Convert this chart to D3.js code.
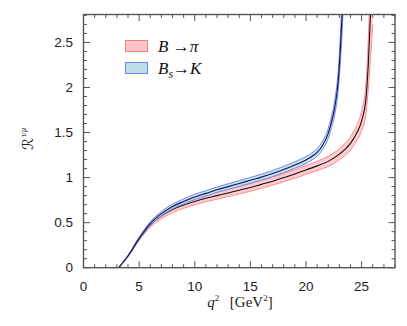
<!DOCTYPE html>
<html>
<head>
<meta charset="utf-8">
<script src="https://cdn.jsdelivr.net/npm/d3@7"></script>
<style>
  body { margin: 0; background: #fff; }
  svg { display: block; }
</style>
</head>
<body>
<div class="chart"></div>
<script>
// q^2 grid and R^{tau/mu} for B -> pi (central value and band half-width)
var q2Bpi = [3.16, 4, 5, 6, 7, 8, 9, 10, 11, 12, 13, 14, 15, 16, 17, 18, 19, 20, 21, 22, 23, 24, 24.5, 25, 25.4, 25.6, 25.8, 26.0];
var rBpi  = [0, 0.13, 0.32, 0.475, 0.575, 0.645, 0.695, 0.735, 0.77, 0.80, 0.83, 0.86, 0.89, 0.925, 0.96, 1.0, 1.04, 1.085, 1.13, 1.18, 1.26, 1.38, 1.48, 1.63, 1.89, 2.26, 2.82, 3.4];
var eBpi  = [0, 0.008, 0.018, 0.026, 0.031, 0.034, 0.036, 0.037, 0.038, 0.039, 0.04, 0.041, 0.042, 0.043, 0.044, 0.045, 0.047, 0.049, 0.052, 0.056, 0.062, 0.075, 0.085, 0.11, 0.17, 0.28, 0.5, 0.7];

// same for Bs -> K
var q2BsK = [3.16, 4, 5, 6, 7, 8, 9, 10, 11, 12, 13, 14, 15, 16, 17, 18, 19, 20, 20.65, 21, 21.5, 22, 22.3, 22.6, 22.9, 23.1, 23.25, 23.4];
var rBsK  = [0, 0.13, 0.325, 0.49, 0.60, 0.68, 0.735, 0.785, 0.825, 0.865, 0.90, 0.935, 0.97, 1.005, 1.045, 1.09, 1.14, 1.195, 1.245, 1.28, 1.36, 1.49, 1.62, 1.79, 2.08, 2.45, 2.82, 3.3];
var eBsK  = [0, 0.006, 0.014, 0.02, 0.024, 0.026, 0.028, 0.029, 0.03, 0.03, 0.031, 0.031, 0.032, 0.033, 0.034, 0.035, 0.036, 0.038, 0.04, 0.042, 0.046, 0.055, 0.065, 0.08, 0.11, 0.15, 0.2, 0.25];

var xTicks = [0, 5, 10, 15, 20, 25];
var yTicks = [0, 0.5, 1, 1.5, 2, 2.5];

var W = 407, H = 326;
var pLeft = 83.5, pRight = 395, pTop = 14.5, pBottom = 267.7;

var x = d3.scaleLinear().domain([0, 28]).range([pLeft, pRight]);
var y = d3.scaleLinear().domain([0, 2.81]).range([pBottom, pTop]);

var svg = d3.select('.chart')
  .append('svg')
  .attr('width', W)
  .attr('height', H);

svg.append('clipPath').attr('id', 'plot')
  .append('rect')
  .attr('x', pLeft).attr('y', pTop)
  .attr('width', pRight - pLeft).attr('height', pBottom - pTop);

function rows(q, r, e) {
  return q.map(function(v, i) { return { q: v, r: r[i], e: e[i] }; });
}
var bpi = rows(q2Bpi, rBpi, eBpi);
var bsk = rows(q2BsK, rBsK, eBsK);

var band = d3.area()
  .x(function(d) { return x(d.q); })
  .y0(function(d) { return y(d.r - d.e); })
  .y1(function(d) { return y(d.r + d.e); })
  .curve(d3.curveMonotoneX);
var edgeLo = d3.line()
  .x(function(d) { return x(d.q); })
  .y(function(d) { return y(d.r - d.e); })
  .curve(d3.curveMonotoneX);
var edgeHi = d3.line()
  .x(function(d) { return x(d.q); })
  .y(function(d) { return y(d.r + d.e); })
  .curve(d3.curveMonotoneX);
var mid = d3.line()
  .x(function(d) { return x(d.q); })
  .y(function(d) { return y(d.r); })
  .curve(d3.curveMonotoneX);

var g = svg.append('g').attr('clip-path', 'url(#plot)');

function drawBand(data, fill, edge, line) {
  g.append('path').attr('d', band(data))
    .style('fill', fill).style('opacity', 0.85);
  g.append('path').attr('d', edgeLo(data))
    .style('fill', 'none').style('stroke', edge).style('stroke-width', 1);
  g.append('path').attr('d', edgeHi(data))
    .style('fill', 'none').style('stroke', edge).style('stroke-width', 1);
  g.append('path').attr('d', mid(data))
    .style('fill', 'none').style('stroke', line).style('stroke-width', 1.1);
}
drawBand(bpi, '#ffc4c8', '#ff8a8a', '#111');
drawBand(bsk, '#bcdfe8', '#6f86f0', '#12124a');

// frame with inward ticks on all sides
var frame = svg.append('g');
var axisColor = '#555';
d3.range(0, 29, 1).forEach(function(v) {
  var len = v % 5 === 0 ? 6.5 : 3.5;
  frame.append('line')
    .attr('x1', x(v)).attr('x2', x(v))
    .attr('y1', pBottom).attr('y2', pBottom - len)
    .style('stroke', axisColor);
  frame.append('line')
    .attr('x1', x(v)).attr('x2', x(v))
    .attr('y1', pTop).attr('y2', pTop + len)
    .style('stroke', axisColor);
});
d3.range(0, 29, 1).forEach(function(k) {
  var v = k / 10;
  var len = k % 5 === 0 ? 6.5 : 3.5;
  frame.append('line')
    .attr('x1', pLeft).attr('x2', pLeft + len)
    .attr('y1', y(v)).attr('y2', y(v))
    .style('stroke', axisColor);
  frame.append('line')
    .attr('x1', pRight).attr('x2', pRight - len)
    .attr('y1', y(v)).attr('y2', y(v))
    .style('stroke', axisColor);
});
frame.append('rect')
  .attr('x', pLeft).attr('y', pTop)
  .attr('width', pRight - pLeft).attr('height', pBottom - pTop)
  .style('fill', 'none').style('stroke', axisColor).style('stroke-width', 1.4);

// tick labels
var sans = '"Liberation Sans", Arial, sans-serif';
svg.selectAll('.xl').data(xTicks).enter().append('text')
  .attr('x', function(d) { return x(d); })
  .attr('y', 290.5)
  .attr('text-anchor', 'middle')
  .style('font-family', sans).style('font-size', '13.5px').style('fill', '#222')
  .text(function(d) { return d; });
svg.selectAll('.yl').data(yTicks).enter().append('text')
  .attr('x', 73)
  .attr('y', function(d) { return y(d) + 4.5; })
  .attr('text-anchor', 'end')
  .style('font-family', sans).style('font-size', '13.5px').style('fill', '#222')
  .text(function(d) { return d; });

// axis titles
var serif = '"Liberation Serif", "Times New Roman", serif';
var xt = svg.append('text')
  .attr('x', 240).attr('y', 307)
  .attr('text-anchor', 'middle')
  .style('font-family', serif).style('font-size', '15px').style('fill', '#222');
xt.append('tspan').style('font-style', 'italic').text('q');
xt.append('tspan').attr('dy', -6).style('font-size', '9px').text('2');
xt.append('tspan').attr('dy', 6).text('\u2002\u2009[GeV');
xt.append('tspan').attr('dy', -6).style('font-size', '9px').text('2');
xt.append('tspan').attr('dy', 6).text(']');

var yt = svg.append('text')
  .attr('transform', 'translate(33,139) rotate(-90)')
  .attr('text-anchor', 'middle')
  .style('font-family', '"DejaVu Sans", "DejaVu Serif", serif').style('font-size', '15px').style('fill', '#222');
yt.append('tspan').text('\u211B');
yt.append('tspan').attr('dy', -7).attr('dx', 1).style('font-family', serif)
  .style('font-size', '8px').style('font-style', 'italic').text('\u03C4/\u03BC');

// legend
var legend = [
  { fill: '#ffc4c8', edge: '#f08080', y: 40.5, main: 'B', sub: '', rest: ' \u2192', end: '\u03C0' },
  { fill: '#bcdfe8', edge: '#6f86f0', y: 62.5, main: 'B', sub: 's', rest: '\u2192', end: 'K' }
];
legend.forEach(function(d) {
  svg.append('rect')
    .attr('x', 125.5).attr('y', d.y)
    .attr('width', 22).attr('height', 11)
    .style('fill', d.fill).style('stroke', d.edge).style('stroke-width', 1);
  var t = svg.append('text')
    .attr('x', 158).attr('y', d.y + 11)
    .style('font-family', serif).style('font-size', '17px').style('fill', '#111');
  t.append('tspan').style('font-style', 'italic').text(d.main);
  if (d.sub) {
    t.append('tspan').attr('dy', 4).style('font-style', 'italic').style('font-size', '12px').text(d.sub);
    t.append('tspan').attr('dy', -4).text(d.rest);
  } else {
    t.append('tspan').text(d.rest);
  }
  t.append('tspan').style('font-style', 'italic').text(d.end);
});
</script>
</body>
</html>
